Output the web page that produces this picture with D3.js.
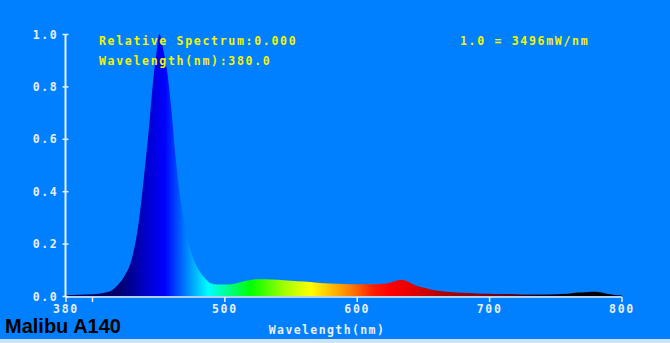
<!DOCTYPE html>
<html><head><meta charset="utf-8">
<script src="https://cdn.jsdelivr.net/npm/d3@7"></script>
<style>html,body{margin:0;padding:0;background:#0080ff;overflow:hidden}</style>
</head><body>
<script>
const wavelengths = [380,390,400,405,410,415,420,425,430,435,440,443,446,449,451,453,455,457,460,463,466,469,472,476,480,485,490,495,500,505,510,515,520,525,530,540,550,560,570,580,590,600,610,620,625,630,634,638,642,646,650,655,660,665,670,680,690,700,710,720,730,740,750,760,765,770,775,780,785,790,795,800];
const relValues = [0.004,0.005,0.007,0.009,0.013,0.022,0.045,0.08,0.14,0.27,0.49,0.64,0.81,0.94,1.0,0.96,0.91,0.85,0.71,0.54,0.40,0.30,0.22,0.15,0.105,0.07,0.048,0.044,0.044,0.045,0.05,0.056,0.061,0.064,0.064,0.062,0.058,0.055,0.051,0.048,0.046,0.045,0.045,0.047,0.051,0.058,0.062,0.056,0.046,0.037,0.032,0.026,0.021,0.018,0.015,0.012,0.010,0.009,0.008,0.007,0.006,0.006,0.007,0.009,0.012,0.013,0.015,0.016,0.013,0.008,0.004,0.003];
const yTicks = [0,0.2,0.4,0.6,0.8,1.0];
const xTicks = [380,400,500,600,700,800];
const xTickLabels = ["380","","500","600","700","800"];
const colorStopsWl = [380,420,432,442,455,465,475,488,500,520,545,565,580,595,612,625,640,665,700,720,745,760,800];
const colorStops = ["#000050","#000070","#0000a0","#0000d0","#0000ff","#0050ff","#00a0ff","#00ffff","#00ffa0","#00ff00","#a0ff00","#ffff00","#ffc000","#ff8000","#ff2000","#ff0000","#e80000","#b00000","#800010","#500018","#100010","#000000","#000000"];
const infoLines = ["Relative Spectrum:0.000","Wavelength(nm):380.0"];
const scaleNote = "1.0 = 3496mW/nm";
const xTitle = "Wavelength(nm)";
const brand = "Malibu A140";

const W=670,H=343;
const svg=d3.select("body").append("svg").attr("width",W).attr("height",H);
svg.append("rect").attr("width",W).attr("height",H).attr("fill","#0080ff");
svg.append("rect").attr("x",0).attr("y",339).attr("width",W).attr("height",4).attr("fill","#cfe3f7");

const x=d3.scaleLinear().domain([380,800]).range([65.5,621.5]);
const y=d3.scaleLinear().domain([0,1]).range([296,34]);

const defs=svg.append("defs");
const grad=defs.append("linearGradient").attr("id","spec").attr("gradientUnits","userSpaceOnUse")
  .attr("x1",x(380)).attr("x2",x(800)).attr("y1",0).attr("y2",0);
colorStopsWl.forEach((w,i)=>grad.append("stop").attr("offset",(w-380)/420).attr("stop-color",colorStops[i]));

const data=wavelengths.map((w,i)=>({w,v:relValues[i]}));
const area=d3.area().curve(d3.curveMonotoneX).x(d=>x(d.w)).y0(y(0)).y1(d=>y(d.v));
svg.append("path").datum(data).attr("d",area).attr("fill","url(#spec)");

const mono="'DejaVu Sans Mono', monospace";
const axisCol="#e8eef5";
const fs=11.5, ls=1.7;
// y axis
const ya=svg.append("g").attr("transform",`translate(${x(380)},0)`)
  .call(d3.axisLeft(y).tickValues(yTicks).tickFormat(d3.format(".1f")).tickSize(3).tickPadding(4));
ya.select(".domain").attr("stroke",axisCol).attr("stroke-width",2).attr("d",`M0,${y(1)}V${y(0)+1}`);
ya.selectAll(".tick line").attr("stroke",axisCol).attr("stroke-width",1.5).attr("x1",-3).attr("x2",3);
ya.selectAll(".tick text").attr("fill",axisCol).attr("font-family",mono).attr("font-weight","bold")
  .attr("font-size",fs).attr("letter-spacing",ls).attr("dy","0.35em");
// x axis
const xa=svg.append("g").attr("transform",`translate(0,${y(0)+1})`)
  .call(d3.axisBottom(x).tickValues(xTicks).tickFormat((d,i)=>xTickLabels[i]).tickSize(5).tickPadding(3));
xa.select(".domain").attr("stroke",axisCol).attr("stroke-width",1.5).attr("d",`M${x(380)},0H${x(800)}`);
xa.selectAll(".tick line").attr("stroke",axisCol).attr("stroke-width",1.5);
xa.selectAll(".tick text").attr("fill",axisCol).attr("font-family",mono).attr("font-weight","bold")
  .attr("font-size",fs).attr("letter-spacing",ls);

// info texts
const yellow="#f4f400";
infoLines.forEach((t,i)=>svg.append("text").attr("x",99).attr("y",45+i*19.5).text(t)
  .attr("fill",yellow).attr("font-family",mono).attr("font-weight","bold").attr("font-size",fs).attr("letter-spacing",ls));
svg.append("text").attr("x",460).attr("y",45).text(scaleNote)
  .attr("fill",yellow).attr("font-family",mono).attr("font-weight","bold").attr("font-size",fs).attr("letter-spacing",ls);

svg.append("text").attr("x",327).attr("y",334).attr("text-anchor","middle").text(xTitle)
  .attr("fill",axisCol).attr("font-family",mono).attr("font-weight","bold").attr("font-size",fs).attr("letter-spacing",1.4);

svg.append("text").attr("x",5).attr("y",333).text(brand)
  .attr("fill","#000").attr("font-family","'Liberation Sans', Arial, sans-serif").attr("font-weight","bold").attr("font-size",20);
</script>
</body></html>
